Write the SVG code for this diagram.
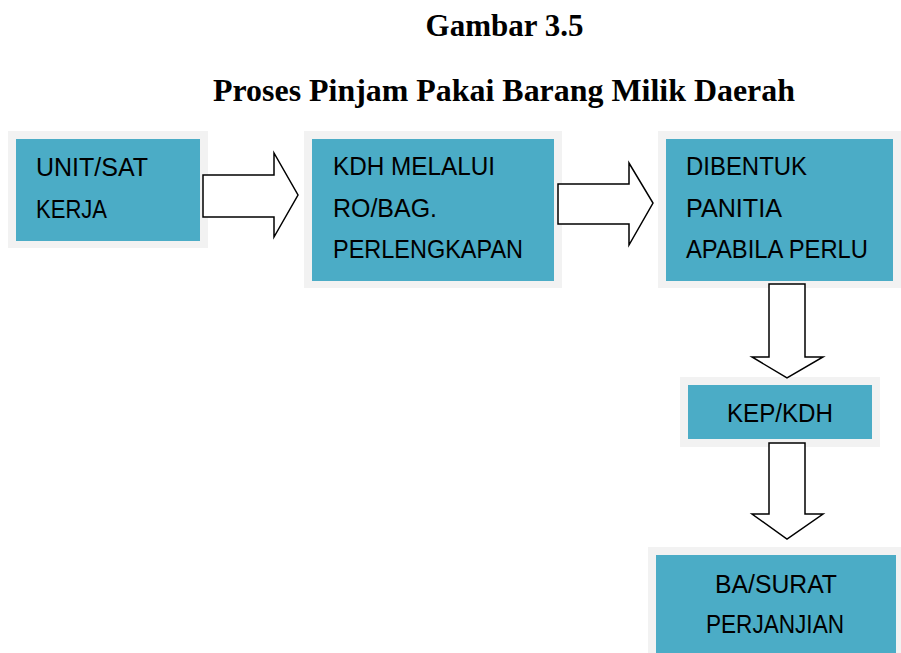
<svg xmlns="http://www.w3.org/2000/svg" width="901" height="653" viewBox="0 0 901 653">
<style>
.frame{fill:#f2f2f2}
.box{fill:#4bacc6}
.t{font-family:"Liberation Sans",Arial,sans-serif;font-size:25px;fill:#000}
.title{font-family:"Liberation Serif","Times New Roman",serif;font-size:31px;font-weight:bold;fill:#000}
.arrow{fill:#fff;stroke:#000;stroke-width:1.5;stroke-linejoin:miter}
</style>
<rect width="901" height="653" fill="#fff"/>
<g id="title">
<text class="title" x="504.5" y="36" text-anchor="middle">Gambar 3.5</text>
<text class="title" x="504" y="101" text-anchor="middle" textLength="582" lengthAdjust="spacingAndGlyphs">Proses Pinjam Pakai Barang Milik Daerah</text>
</g>
<g id="node1">
<rect class="frame" x="8" y="131" width="200" height="117"/>
<rect class="box" x="16" y="139" width="184" height="102"/>
<text class="t" x="36" y="176" textLength="112" lengthAdjust="spacingAndGlyphs">UNIT/SAT</text>
<text class="t" x="36" y="218" textLength="71" lengthAdjust="spacingAndGlyphs">KERJA</text>
</g>
<g id="node2">
<rect class="frame" x="304" y="131" width="258" height="157"/>
<rect class="box" x="312" y="139" width="242" height="142"/>
<text class="t" x="333" y="175" textLength="162" lengthAdjust="spacingAndGlyphs">KDH MELALUI</text>
<text class="t" x="333" y="217" textLength="104" lengthAdjust="spacingAndGlyphs">RO/BAG.</text>
<text class="t" x="333" y="258" textLength="190" lengthAdjust="spacingAndGlyphs">PERLENGKAPAN</text>
</g>
<g id="node3">
<rect class="frame" x="658" y="131" width="250" height="157"/>
<rect class="box" x="666" y="139" width="227" height="142"/>
<text class="t" x="686" y="175" textLength="121" lengthAdjust="spacingAndGlyphs">DIBENTUK</text>
<text class="t" x="686" y="217" textLength="96" lengthAdjust="spacingAndGlyphs">PANITIA</text>
<text class="t" x="686" y="258" textLength="182" lengthAdjust="spacingAndGlyphs">APABILA PERLU</text>
</g>
<g id="node4">
<rect class="frame" x="680" y="377" width="200" height="70"/>
<rect class="box" x="688" y="385" width="184" height="54"/>
<text class="t" x="727" y="422" textLength="106" lengthAdjust="spacingAndGlyphs">KEP/KDH</text>
</g>
<g id="node5">
<rect class="frame" x="648" y="547" width="260" height="110"/>
<rect class="box" x="656" y="555" width="240" height="100"/>
<text class="t" x="715" y="593" textLength="122" lengthAdjust="spacingAndGlyphs">BA/SURAT</text>
<text class="t" x="706" y="633" textLength="138" lengthAdjust="spacingAndGlyphs">PERJANJIAN</text>
</g>
<g id="connectors">
<polygon class="arrow" points="203,175 274,175 274,153 298,195 274,237 274,217 203,217"/>
<polygon class="arrow" points="558,184 629,184 629,163 653,203 629,245 629,224 558,224"/>
<polygon class="arrow" points="769,284 805,284 805,357 823,357 787,378 752,357 769,357"/>
<polygon class="arrow" points="769,443 805,443 805,514 823,514 787,539 752,514 769,514"/>
</g>
</svg>
